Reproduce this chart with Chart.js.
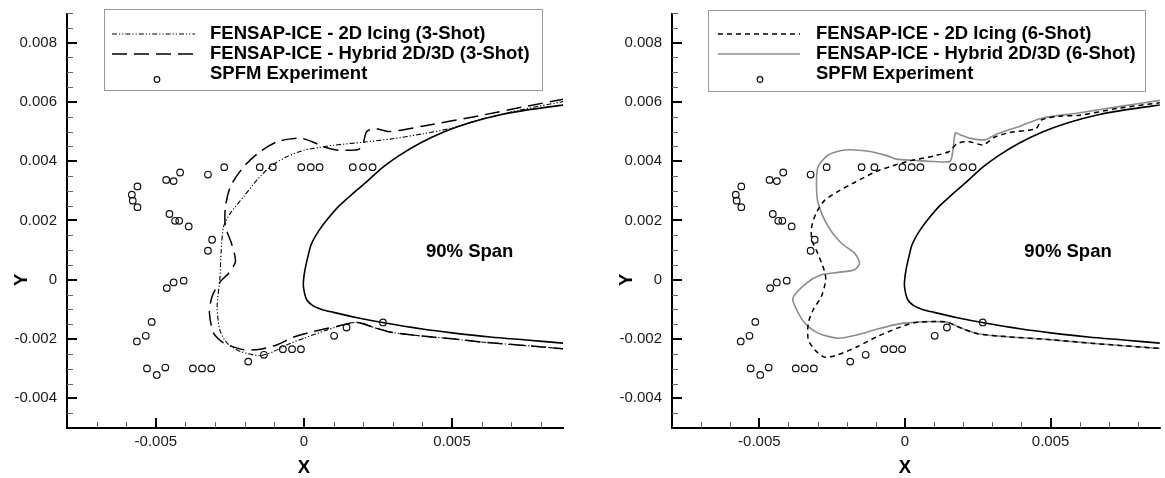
<!DOCTYPE html>
<html><head><meta charset="utf-8">
<script src="https://cdn.jsdelivr.net/npm/chart.js@4.4.1/dist/chart.umd.min.js"></script>
<style>
html,body{margin:0;padding:0;background:#fff;width:1165px;height:478px;overflow:hidden}
canvas{position:absolute;top:0}
#c1{left:0}
#c2{left:580px}
</style></head><body>
<canvas id="c1" width="580" height="478" style="width:580px;height:478px"></canvas>
<canvas id="c2" width="585" height="478" style="width:585px;height:478px"></canvas>
<script>
// ---------- axis ranges & tick labels ----------
const xMin = -0.008, xMax = 0.00875;
const yMin = -0.005, yMax = 0.009;
const xMajorTicks = [-0.005, 0, 0.005];
const xTickLabels = ['-0.005', '0', '0.005'];
const yMajorTicks = [-0.004, -0.002, 0, 0.002, 0.004, 0.006, 0.008];
const yTickLabels = ['-0.004', '-0.002', '0', '0.002', '0.004', '0.006', '0.008'];
const xMinorStep = 0.001, yMinorStep = 0.0005;
const xTitle = 'X', yTitle = 'Y';
const spanLabel = '90% Span', spanX = 0.0056, spanY = 0.00095;

// ---------- series labels ----------
const labels2D3 = 'FENSAP-ICE - 2D Icing (3-Shot)';
const labelsHyb3 = 'FENSAP-ICE - Hybrid 2D/3D (3-Shot)';
const labels2D6 = 'FENSAP-ICE - 2D Icing (6-Shot)';
const labelsHyb6 = 'FENSAP-ICE - Hybrid 2D/3D (6-Shot)';
const labelsExp = 'SPFM Experiment';

// ---------- clean airfoil (90% span) ----------
const airfoilX = [0.0088, 0.0076, 0.0066, 0.0056, 0.0047, 0.0039, 0.0032, 0.00265, 0.0022, 0.0017, 0.0012, 0.0008, 0.0005, 0.00025, 0.00014, 0.00003, -0.00002, 0.00002, 0.0001, 0.0003, 0.0006, 0.001, 0.0018, 0.0027, 0.004, 0.005, 0.0063, 0.0075, 0.0088];
const airfoilY = [0.0059, 0.00574, 0.00556, 0.0053, 0.00498, 0.0046, 0.00418, 0.00378, 0.00338, 0.00295, 0.0025, 0.00205, 0.00165, 0.0012, 0.0008, 0.0003, -0.00015, -0.00045, -0.00068, -0.00087, -0.001, -0.0011, -0.00128, -0.00145, -0.00166, -0.00179, -0.00193, -0.00203, -0.00214];

// ---------- SPFM experiment ----------
const expX = [-0.00581, -0.00578, -0.00562, -0.00562, -0.00465, -0.0044, -0.00418, -0.00324, -0.00269, -0.00149, -0.00105, -0.00009, 0.00023, 0.00053, 0.00165, 0.002, 0.00232, -0.00454, -0.00435, -0.00421, -0.00389, -0.0031, -0.00324, -0.00463, -0.0044, -0.00406, -0.00514, -0.00534, -0.00564, -0.0053, -0.00497, -0.00468, -0.00375, -0.00344, -0.00313, -0.00188, -0.00135, -0.00071, -0.0004, -0.0001, 0.00102, 0.00144, 0.00267];
const expY = [0.00287, 0.00267, 0.00315, 0.00245, 0.00337, 0.00333, 0.00362, 0.00355, 0.0038, 0.0038, 0.0038, 0.0038, 0.0038, 0.0038, 0.0038, 0.0038, 0.0038, 0.00222, 0.00199, 0.00199, 0.0018, 0.00135, 0.00098, -0.00028, -0.00009, -0.00003, -0.00142, -0.00189, -0.00208, -0.00299, -0.00321, -0.00296, -0.00299, -0.00299, -0.00299, -0.00276, -0.00253, -0.00234, -0.00234, -0.00234, -0.00189, -0.00161, -0.00144];

// ---------- 2D icing, 3-shot ----------
const ice2D3X = [0.0088, 0.0075, 0.006, 0.005, 0.004, 0.003, 0.002, 0.001, 0.0005, 0, -0.00056, -0.00113, -0.00158, -0.00203, -0.00248, -0.00271, -0.00279, -0.00284, -0.00293, -0.00284, -0.0026, -0.00214, -0.00147, -0.00102, -0.00056, 0, 0.00079, 0.00147, 0.0019, 0.0024, 0.003, 0.004, 0.005, 0.006, 0.0075, 0.0088];
const ice2D3Y = [0.00602, 0.00577, 0.00542, 0.00512, 0.00492, 0.00476, 0.00464, 0.00454, 0.00446, 0.00437, 0.00416, 0.00382, 0.00337, 0.00281, 0.00225, 0.0018, 0.00101, 0, -0.0009, -0.00169, -0.00213, -0.00242, -0.00256, -0.00242, -0.00219, -0.00197, -0.00169, -0.00148, -0.00144, -0.00162, -0.00178, -0.0019, -0.00199, -0.0021, -0.00222, -0.00233];

// ---------- hybrid 2D/3D, 3-shot ----------
const hyb3X = [0.0088, 0.0075, 0.006, 0.0041, 0.0029, 0.0024, 0.00212, 0.002, 0.00185, 0.0015, 0.0011, 0.00068, 0.0003, -0.0001, -0.0004, -0.0009, -0.00147, -0.00203, -0.00248, -0.00265, -0.00265, -0.00245, -0.00231, -0.00254, -0.00282, -0.0031, -0.00319, -0.00305, -0.00271, -0.00203, -0.00147, -0.0009, -0.00034, 0.00034, 0.00113, 0.00177, 0.0024, 0.003, 0.004, 0.005, 0.006, 0.0075, 0.0088];
const hyb3Y = [0.0061, 0.00585, 0.00555, 0.0052, 0.005, 0.0051, 0.005, 0.0046, 0.0044, 0.00437, 0.00438, 0.00448, 0.00465, 0.00478, 0.00476, 0.00466, 0.00433, 0.00382, 0.00315, 0.00247, 0.0018, 0.00124, 0.00062, 0.00022, -0.00006, -0.00056, -0.00112, -0.0018, -0.00213, -0.00236, -0.00234, -0.00219, -0.00193, -0.00174, -0.00157, -0.00144, -0.00162, -0.00178, -0.0019, -0.00199, -0.0021, -0.00222, -0.00233];

// ---------- 2D icing, 6-shot ----------
const ice2D6X = [0.0088, 0.0073, 0.006, 0.0053, 0.0047, 0.0045, 0.0036, 0.00305, 0.00269, 0.0022, 0.0018, 0.0015, 0.001, 0.0002, -0.0005, -0.001, -0.0017, -0.0023, -0.00276, -0.00305, -0.0032, -0.0032, -0.003, -0.00278, -0.00272, -0.00287, -0.00315, -0.00332, -0.00332, -0.0031, -0.00276, -0.0023, -0.00162, -0.00094, -0.00026, 0.00031, 0.001, 0.00145, 0.0019, 0.0025, 0.0035, 0.005, 0.0065, 0.0088];
const ice2D6Y = [0.00598, 0.00578, 0.00555, 0.00552, 0.0054, 0.0051, 0.00497, 0.0048, 0.00455, 0.00466, 0.0046, 0.00432, 0.00418, 0.00402, 0.00382, 0.00365, 0.0033, 0.00298, 0.00268, 0.00225, 0.0018, 0.00135, 0.0009, 0.00034, 0, -0.00056, -0.00101, -0.00146, -0.00202, -0.00236, -0.00261, -0.00253, -0.00225, -0.00191, -0.00163, -0.00145, -0.00141, -0.00143, -0.00162, -0.00182, -0.00192, -0.00202, -0.00215, -0.00232];

// ---------- hybrid 2D/3D, 6-shot ----------
const hyb6X = [0.0088, 0.0074, 0.0059, 0.0047, 0.004, 0.00315, 0.00275, 0.0022, 0.0019, 0.00173, 0.00165, 0.00155, 0.001, 0.0003, -0.0003, -0.0006, -0.0012, -0.00205, -0.00264, -0.00298, -0.00304, -0.00298, -0.00264, -0.00219, -0.00173, -0.00156, -0.00173, -0.0023, -0.00287, -0.00338, -0.00385, -0.00372, -0.00344, -0.00298, -0.0023, -0.00162, -0.00094, -0.00015, 0.00053, 0.001, 0.00145, 0.0019, 0.0025, 0.0035, 0.005, 0.0065, 0.0088];
const hyb6Y = [0.00606, 0.00585, 0.00562, 0.00545, 0.0052, 0.00492, 0.00472, 0.00478, 0.00489, 0.00495, 0.0044, 0.004, 0.00399, 0.00403, 0.00407, 0.00418, 0.00433, 0.00438, 0.00421, 0.00382, 0.00326, 0.00258, 0.0018, 0.00124, 0.0009, 0.00056, 0.00034, 0.00025, 0.00017, -0.00011, -0.00062, -0.00101, -0.00146, -0.0018, -0.00197, -0.00185, -0.00166, -0.00148, -0.00142, -0.00141, -0.00143, -0.00162, -0.00182, -0.00192, -0.00202, -0.00215, -0.00232];

// ---------- helpers ----------
const FONT = '"Liberation Sans", Arial, Helvetica, sans-serif';
Chart.defaults.font.family = FONT;
function pts(xs, ys) { return xs.map((x, i) => ({x: x, y: ys[i]})); }

function expSet() {
  return {label: labelsExp, data: pts(expX, expY), showLine: false, pointStyle: 'circle',
    pointRadius: 3.3, pointBorderWidth: 1.2, pointBorderColor: '#111', pointBackgroundColor: 'rgba(0,0,0,0)',
    borderColor: '#111', legendRow: 2};
}
function airfoilSet() {
  return {label: 'airfoil', data: pts(airfoilX, airfoilY), showLine: true, pointRadius: 0,
    borderColor: '#000', borderWidth: 1.6, tension: 0.3};
}
function lineSet(label, xs, ys, color, width, dash, row) {
  return {label: label, data: pts(xs, ys), showLine: true, pointRadius: 0, borderColor: color,
    borderWidth: width, borderDash: dash, tension: 0.25, legendRow: row};
}

const decor = {
  id: 'decor',
  afterDraw(chart, args, o) {
    const {ctx, chartArea: a, scales: {x, y}} = chart;
    ctx.save();
    // axis lines
    ctx.strokeStyle = '#000'; ctx.lineWidth = 2;
    ctx.beginPath();
    ctx.moveTo(a.left, a.top); ctx.lineTo(a.left, a.bottom); ctx.lineTo(a.right + 1, a.bottom);
    ctx.stroke();
    // minor ticks
    ctx.strokeStyle = '#666'; ctx.lineWidth = 1;
    ctx.beginPath();
    for (let i = Math.ceil(xMin / xMinorStep); i <= Math.floor(xMax / xMinorStep); i++) {
      const v = i * xMinorStep;
      if (xMajorTicks.some(m => Math.abs(m - v) < 1e-9)) continue;
      const px = Math.round(x.getPixelForValue(v)) + 0.5;
      if (px < a.left + 3 || px > a.right) continue;
      ctx.moveTo(px, a.bottom); ctx.lineTo(px, a.bottom - 6);
    }
    for (let i = Math.ceil(yMin / yMinorStep); i <= Math.floor(yMax / yMinorStep); i++) {
      const v = i * yMinorStep;
      if (yMajorTicks.some(m => Math.abs(m - v) < 1e-9)) continue;
      const py = Math.round(y.getPixelForValue(v)) + 0.5;
      if (py > a.bottom - 3 || py < a.top) continue;
      ctx.moveTo(a.left, py); ctx.lineTo(a.left + 6, py);
    }
    ctx.stroke();
    // major ticks
    ctx.strokeStyle = '#000'; ctx.lineWidth = 2;
    ctx.beginPath();
    xMajorTicks.forEach(v => { const px = Math.round(x.getPixelForValue(v)); ctx.moveTo(px, a.bottom); ctx.lineTo(px, a.bottom - 10); });
    yMajorTicks.forEach(v => { const py = Math.round(y.getPixelForValue(v)); ctx.moveTo(a.left, py); ctx.lineTo(a.left + 10, py); });
    ctx.stroke();
    // axis titles
    ctx.fillStyle = '#000';
    ctx.font = 'bold 18.5px ' + FONT;
    ctx.textAlign = 'center'; ctx.textBaseline = 'alphabetic';
    ctx.fillText(xTitle, x.getPixelForValue(0), 473);
    ctx.save();
    ctx.translate(a.left - 47 + 6.5, y.getPixelForValue(0));
    ctx.rotate(-Math.PI / 2);
    ctx.fillText(yTitle, 0, 0);
    ctx.restore();
    // annotation
    ctx.textBaseline = 'middle';
    ctx.fillText(spanLabel, x.getPixelForValue(spanX), y.getPixelForValue(spanY));
    // legend
    const L = o.legend;
    const bx = a.left + L.dx;
    ctx.strokeStyle = '#9a9a9a'; ctx.lineWidth = 1;
    ctx.strokeRect(Math.round(bx) + 0.5, L.top + 0.5, L.w, L.h);
    ctx.textAlign = 'left'; ctx.textBaseline = 'middle';
    chart.data.datasets.forEach(ds => {
      if (ds.legendRow === undefined) return;
      const ry = L.rows[ds.legendRow];
      if (ds.showLine) {
        ctx.save();
        ctx.strokeStyle = ds.borderColor; ctx.lineWidth = ds.borderWidth;
        ctx.setLineDash(ds.borderDash || []);
        ctx.beginPath(); ctx.moveTo(a.left + L.sx0, ry); ctx.lineTo(a.left + L.sx1, ry); ctx.stroke();
        ctx.restore();
      } else {
        ctx.save();
        ctx.strokeStyle = '#111'; ctx.lineWidth = 1.2;
        ctx.beginPath(); ctx.arc(a.left + L.mx, L.my, 2.8, 0, Math.PI * 2); ctx.stroke();
        ctx.restore();
      }
      ctx.fillStyle = '#000';
      ctx.font = 'bold 18.5px ' + FONT;
      ctx.fillText(ds.label, a.left + L.tx, ry);
    });
    ctx.restore();
  }
};

function makeChart(id, datasets, yAxisW, padRight, legend) {
  return new Chart(document.getElementById(id), {
    type: 'scatter',
    data: {datasets: datasets},
    options: {
      responsive: false, animation: false, events: [],
      layout: {padding: {top: 13, left: 0, right: padRight, bottom: 0}},
      plugins: {legend: {display: false}, tooltip: {enabled: false}, decor: {legend: legend}},
      scales: {
        x: {
          type: 'linear', position: 'bottom', min: xMin, max: xMax,
          afterBuildTicks: s => { s.ticks = xMajorTicks.map(v => ({value: v})); },
          afterFit: s => { s.height = 50; s.paddingLeft = 0; s.paddingRight = 0; s.paddingTop = 0; s.paddingBottom = 0; },
          grid: {display: false, drawTicks: false}, border: {display: false},
          ticks: {padding: 5, color: '#1a1a1a', font: {size: 15}, autoSkip: false, maxRotation: 0,
            callback: (v, i) => xTickLabels[i]}
        },
        y: {
          type: 'linear', position: 'left', min: yMin, max: yMax,
          afterBuildTicks: s => { s.ticks = yMajorTicks.map(v => ({value: v})); },
          afterFit: s => { s.width = yAxisW; s.paddingLeft = 0; s.paddingRight = 0; s.paddingTop = 0; s.paddingBottom = 0; },
          grid: {display: false, drawTicks: false}, border: {display: false},
          ticks: {padding: 10, color: '#1a1a1a', font: {size: 15}, autoSkip: false,
            callback: (v, i) => yTickLabels[i]}
        }
      }
    },
    plugins: [decor]
  });
}

makeChart('c1', [
  expSet(),
  lineSet(labels2D3, ice2D3X, ice2D3Y, '#000', 1.1, [5, 2, 1.2, 2, 1.2, 2], 0),
  lineSet(labelsHyb3, hyb3X, hyb3Y, '#000', 1.5, [15, 7], 1),
  airfoilSet()
], 67, 17, {dx: 36.5, top: 9, w: 438, h: 81, sx0: 45, sx1: 128, tx: 143, rows: [34, 54, 74], mx: 90, my: 79.5});

makeChart('c2', [
  expSet(),
  lineSet(labels2D6, ice2D6X, ice2D6Y, '#000', 1.5, [5, 4], 0),
  lineSet(labelsHyb6, hyb6X, hyb6Y, '#8c8c8c', 1.6, [], 1),
  airfoilSet()
], 92, 0, {dx: 36.3, top: 10, w: 437, h: 81, sx0: 46, sx1: 128, tx: 144, rows: [34, 54, 74], mx: 88, my: 79.5});
</script>
</body></html>
